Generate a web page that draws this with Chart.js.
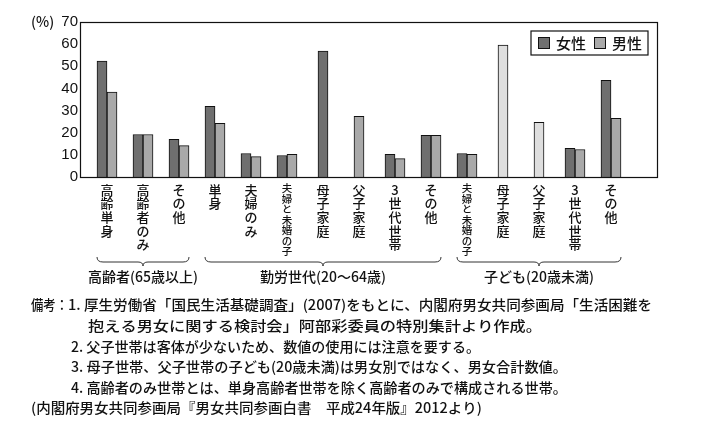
<!DOCTYPE html>
<html lang="ja">
<head>
<meta charset="utf-8">
<script src="https://cdn.jsdelivr.net/npm/chart.js@4/dist/chart.umd.min.js"></script>
<style>
  html, body { margin: 0; padding: 0; background: #fff; }
  #wrap { position: relative; width: 716px; height: 433px; }
</style>
</head>
<body>
<div id="wrap"><canvas id="chart"></canvas></div>
<script>
// categories (vertical labels, one char per line)
const categories = [
  '高齢単身', '高齢者のみ', 'その他',
  '単身', '夫婦のみ', '夫婦と未婚の子', '母子家庭', '父子家庭', '3世代世帯', 'その他',
  '夫婦と未婚の子', '母子家庭', '父子家庭', '3世代世帯', 'その他'
];
const female = [52.4, 19.2, 17.0, 31.9, 10.6, 9.7, 56.9, null, 10.2, 18.8, 10.6, null, null, 12.9, 43.7];
const male   = [38.3, 19.2, 14.2, 24.2, 9.2, 10.2, null, 27.4, 8.3, 18.8, 10.2, null, null, 12.4, 26.5];
const total  = [null, null, null, null, null, null, null, null, null, null, null, 59.6, 24.7, null, null];
const yTicks = [0, 10, 20, 30, 40, 50, 60, 70];

const groupNames = ['高齢者(65歳以上)', '勤労世代(20～64歳)', '子ども(20歳未満)'];
const groupRanges = [[0, 2], [3, 9], [10, 14]];

const notes = [
  '備考：',
  '1. 厚生労働省「国民生活基礎調査」(2007)をもとに、内閣府男女共同参画局「生活困難を',
  '抱える男女に関する検討会」阿部彩委員の特別集計より作成。',
  '2. 父子世帯は客体が少ないため、数値の使用には注意を要する。',
  '3. 母子世帯、父子世帯の子ども(20歳未満)は男女別ではなく、男女合計数値。',
  '4. 高齢者のみ世帯とは、単身高齢者世帯を除く高齢者のみで構成される世帯。',
  '(内閣府男女共同参画局『男女共同参画白書　平成24年版』2012より)'
];

const JP = '"Noto Sans CJK JP", "Noto Sans", sans-serif';
const INK = '#111';

// draw text stretched/squeezed to a given width
function fitText(ctx, text, x, y, w) {
  const m = ctx.measureText(text).width;
  ctx.save();
  ctx.translate(x, y);
  ctx.scale(w / m, 1);
  ctx.fillText(text, 0, 0);
  ctx.restore();
}

function drawBrace(ctx, x1, x2, yTop) {
  const yl = yTop + 5;
  const mid = (x1 + x2) / 2;
  ctx.beginPath();
  ctx.moveTo(x1, yTop);
  ctx.quadraticCurveTo(x1, yl, x1 + 6, yl);
  ctx.lineTo(mid - 5, yl);
  ctx.quadraticCurveTo(mid, yl, mid, yl + 4);
  ctx.quadraticCurveTo(mid, yl, mid + 5, yl);
  ctx.lineTo(x2 - 6, yl);
  ctx.quadraticCurveTo(x2, yl, x2, yTop);
  ctx.stroke();
}

const decorations = {
  id: 'decorations',
  afterDraw(chart) {
    const ctx = chart.ctx;
    const area = chart.chartArea;
    const xs = chart.scales.x;
    ctx.save();

    // plot frame
    ctx.strokeStyle = INK;
    ctx.lineWidth = 1.2;
    ctx.strokeRect(80.5, area.top + 0.5, 657 - 80, area.bottom - area.top);

    // (%) unit
    ctx.fillStyle = INK;
    ctx.font = '500 14px ' + JP;
    ctx.textBaseline = 'middle';
    ctx.textAlign = 'left';
    ctx.fillText('(%)', 31, area.top);

    // legend
    ctx.lineWidth = 1.2;
    ctx.strokeRect(531, 31, 117, 24);
    const items = chart.data.datasets.slice(0, 2);
    const lx = [538, 594];
    items.forEach((ds, i) => {
      ctx.fillStyle = ds.backgroundColor;
      ctx.fillRect(lx[i], 37.5, 11, 11);
      ctx.strokeStyle = INK;
      ctx.lineWidth = 1;
      ctx.strokeRect(lx[i] + 0.5, 37.5, 11, 11);
      ctx.fillStyle = INK;
      ctx.font = '500 15px ' + JP;
      ctx.fillText(ds.label, lx[i] + 18, 43.5);
    });

    // group braces and names
    ctx.strokeStyle = '#333';
    ctx.lineWidth = 1;
    ctx.font = '500 14px ' + JP;
    ctx.textAlign = 'center';
    groupRanges.forEach((r, i) => {
      const x1 = xs.getPixelForValue(r[0]) - 10;
      const x2 = xs.getPixelForValue(r[1]) + 10;
      drawBrace(ctx, x1, x2, 257);
      ctx.fillStyle = INK;
      ctx.fillText(groupNames[i], (x1 + x2) / 2, 277);
    });

    // notes
    ctx.textAlign = 'left';
    ctx.font = '500 14px ' + JP;
    const noteLines = [
      [notes[0], 31, 305, 37],
      [notes[1], 68, 305, 584],
      [notes[2], 88, 326, 454],
      [notes[3], 71, 347, 409],
      [notes[4], 71, 367, 496],
      [notes[5], 71, 388, 496],
      [notes[6], 31, 408, 451]
    ];
    noteLines.forEach(l => fitText(ctx, l[0], l[1], l[2], l[3]));

    ctx.restore();
  }
};

new Chart(document.getElementById('chart'), {
  type: 'bar',
  data: {
    labels: categories.map(c => c.split('')),
    datasets: [
      { label: '女性', data: female, backgroundColor: '#6f6f6f', borderColor: INK, borderWidth: 1 },
      { label: '男性', data: male, backgroundColor: '#a9a9a9', borderColor: INK, borderWidth: 1 },
      { label: '男女計', data: total, backgroundColor: '#dedede', borderColor: INK, borderWidth: 1 }
    ]
  },
  options: {
    responsive: true,
    maintainAspectRatio: false,
    animation: false,
    skipNull: true,
    barThickness: 10,
    layout: { padding: { top: 22, right: 87, left: 0, bottom: 0 } },
    plugins: {
      legend: { display: false },
      tooltip: { enabled: false }
    },
    scales: {
      x: {
        grid: { display: false, drawTicks: false },
        border: { display: false },
        afterFit: s => { s.height = 433 - 177; },
        ticks: {
          autoSkip: false,
          maxRotation: 0,
          minRotation: 0,
          padding: 6,
          color: INK,
          font: ctx => {
            const n = categories[ctx.index] ? categories[ctx.index].length : 4;
            return n > 5
              ? { family: JP, size: 10.5, weight: 500, lineHeight: 1.0 }
              : { family: JP, size: 13, weight: 500, lineHeight: 1.05 };
          }
        }
      },
      y: {
        min: 0,
        max: 70,
        grid: { display: false, drawTicks: false },
        border: { display: false },
        afterFit: s => { s.width = 89; },
        afterBuildTicks: s => { s.ticks = yTicks.map(v => ({ value: v })); },
        ticks: {
          padding: 11,
          color: INK,
          font: { family: '"Liberation Sans", Arial, sans-serif', size: 15 }
        }
      }
    }
  },
  plugins: [decorations]
});
</script>
</body>
</html>
